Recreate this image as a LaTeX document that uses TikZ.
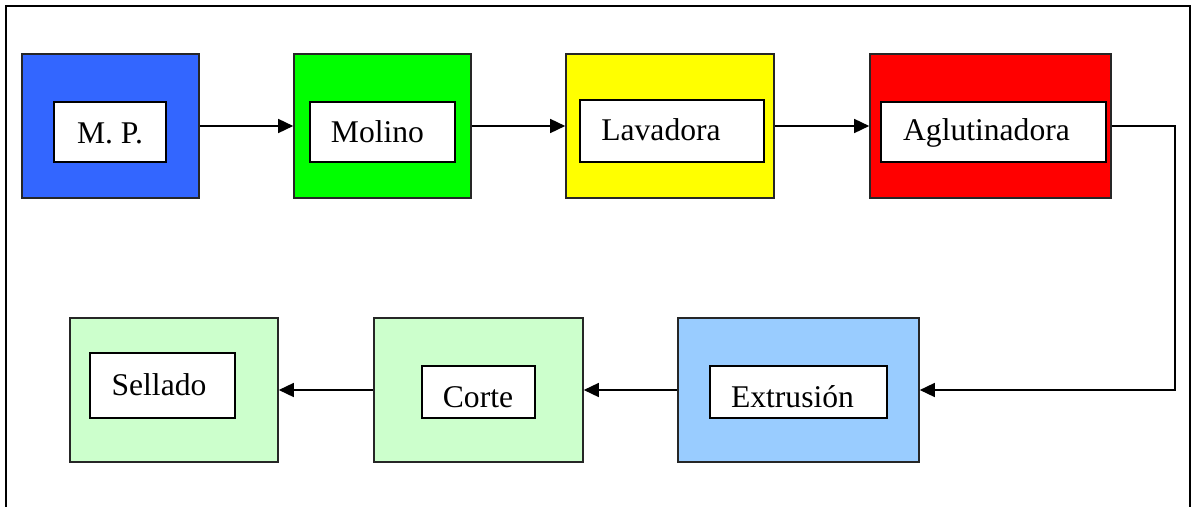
\documentclass[tikz,border=0pt]{standalone}
\usepackage{fontspec}
\setmainfont{Liberation Serif}
\usetikzlibrary{arrows.meta}
\colorlet{mpblue}{rgb,255:red,51;green,102;blue,255}
\colorlet{molgreen}{rgb,255:red,0;green,255;blue,0}
\colorlet{lavyellow}{rgb,255:red,255;green,255;blue,0}
\colorlet{aglred}{rgb,255:red,255;green,0;blue,0}
\colorlet{palegreen}{rgb,255:red,204;green,255;blue,204}
\colorlet{paleblue}{rgb,255:red,153;green,204;blue,255}

\tikzset{
  panel/.style={draw=black!85, line width=1.6pt, inner sep=0pt},
  tag/.style={draw=black, fill=white, line width=2.2pt, inner sep=0pt},
  word/.style={anchor=base, inner sep=0pt, font=\fontsize{31.6}{36}\selectfont},
  flow/.style={line width=1.5pt, -{Triangle[length=15pt,width=14pt]}}
}

\begin{document}
\begin{tikzpicture}[x=1pt, y=-1pt]
\useasboundingbox (0,0) rectangle (1196,506);
\begin{scope}
\clip (0,0) rectangle (1196,506);
\draw[line width=1.6pt] (6,530) -- (6,6) -- (1190,6) -- (1190,530);
\end{scope}
% top row
\node[panel, fill=mpblue, minimum width=177pt, minimum height=144pt] (mp) at (110.5,126) {};
\node[tag, minimum width=112pt, minimum height=60pt] (mpbox) at (110,132) {};
\node[word] (mptext) at (110,143) {M. P.};
\node[panel, fill=molgreen, minimum width=177pt, minimum height=144pt] (mol) at (382.5,126) {};
\node[tag, minimum width=145pt, minimum height=60pt] (molbox) at (382.5,132) {};
\node[word] (moltext) at (377.5,142) {Molino};
\node[panel, fill=lavyellow, minimum width=208pt, minimum height=144pt] (lav) at (670,126) {};
\node[tag, minimum width=184pt, minimum height=62pt] (lavbox) at (672,131) {};
\node[word] (lavtext) at (661,140) {Lavadora};
\node[panel, fill=aglred, minimum width=241pt, minimum height=144pt] (agl) at (990.5,126) {};
\node[tag, minimum width=225pt, minimum height=60pt] (aglbox) at (993.5,132) {};
\node[word] (agltext) at (986.5,140) {Aglutinadora};
% bottom row
\node[panel, fill=palegreen, minimum width=208pt, minimum height=144pt] (sel) at (174,390) {};
\node[tag, minimum width=145pt, minimum height=65pt] (selbox) at (162.5,385.5) {};
\node[word] (seltext) at (159,395) {Sellado};
\node[panel, fill=palegreen, minimum width=209pt, minimum height=144pt] (cor) at (478.5,390) {};
\node[tag, minimum width=113pt, minimum height=52pt] (corbox) at (478.5,392) {};
\node[word] (cortext) at (478,407) {Corte};
\node[panel, fill=paleblue, minimum width=241pt, minimum height=144pt] (ext) at (798.5,390) {};
\node[tag, minimum width=177pt, minimum height=52pt] (extbox) at (798.5,392) {};
\node[word] (exttext) at (792.5,407) {Extrusión};
\coordinate (turn) at (1175,126);
\draw[flow] (mp.east) -- (mol.west);
\draw[flow] (mol.east) -- (lav.west);
\draw[flow] (lav.east) -- (agl.west);
\draw[flow] (agl.east) -- (turn) |- (ext.east);
\draw[flow] (ext.west) -- (cor.east);
\draw[flow] (cor.west) -- (sel.east);
\end{tikzpicture}
\end{document}
